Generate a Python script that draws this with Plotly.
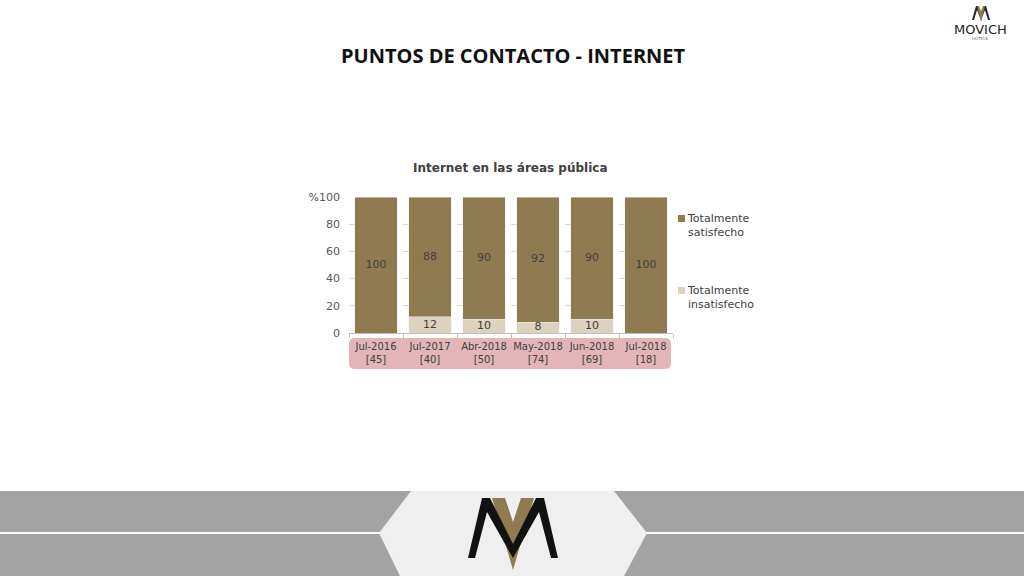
import plotly.graph_objects as go

# ---- data ----
periods = ["Jul-2016", "Jul-2017", "Abr-2018", "May-2018", "Jun-2018", "Jul-2018"]
sample_sizes = ["[45]", "[40]", "[50]", "[74]", "[69]", "[18]"]
satisfecho = [100, 88, 90, 92, 90, 100]
insatisfecho = [0, 12, 10, 8, 10, 0]
series_names = ["Totalmente<br>satisfecho", "Totalmente<br>insatisfecho"]
y_ticks = [0, 20, 40, 60, 80, 100]
y_ticktext = ["0", "20", "40", "60", "80", "%100"]

DARK = "#8E7B50"
LIGHT = "#DDD2BF"
PINK = "#E4B5B8"
TXT = "#404040"
FONT = "DejaVu Sans"

W, H = 1024, 576
ML, MR, MT, MB = 349, 351, 197, 243
PW, PH = W - ML - MR, H - MT - MB


def px(x):
    return (x - ML) / PW


def py(y):
    return (H - MB - y) / PH


def poly(pts):
    return "M " + " L ".join(f"{px(a)},{py(b)}" for a, b in pts) + " Z"


xlabels = [f"{p}<br>{n}" for p, n in zip(periods, sample_sizes)]

fig = go.Figure()
fig.add_trace(go.Bar(x=periods, y=insatisfecho, name=series_names[1],
                     marker_color=LIGHT, showlegend=False))
fig.add_trace(go.Bar(x=periods, y=satisfecho, name=series_names[0],
                     marker_color=DARK, showlegend=False))

# value labels
fig.add_trace(go.Scatter(
    x=[p for p, u in zip(periods, insatisfecho) if u > 0],
    y=[u / 2 for u in insatisfecho if u > 0],
    text=[str(u) for u in insatisfecho if u > 0],
    mode="text", textfont=dict(family=FONT, size=11, color=TXT),
    showlegend=False, cliponaxis=False, hoverinfo="skip"))
fig.add_trace(go.Scatter(
    x=periods,
    y=[u + s / 2 for u, s in zip(insatisfecho, satisfecho)],
    text=[str(s) for s in satisfecho],
    mode="text", textfont=dict(family=FONT, size=11, color=TXT),
    showlegend=False, cliponaxis=False, hoverinfo="skip"))

shapes = []
# pink label box (rounded)
x0, x1, y0, y1, r = px(349), px(671), py(369), py(338), 6
rx, ry = r / PW, r / PH
shapes.append(dict(
    type="path", xref="paper", yref="paper", layer="below",
    fillcolor=PINK, line=dict(width=0),
    path=(f"M {x0+rx},{y0} L {x1-rx},{y0} Q {x1},{y0} {x1},{y0+ry} "
          f"L {x1},{y1-ry} Q {x1},{y1} {x1-rx},{y1} L {x0+rx},{y1} "
          f"Q {x0},{y1} {x0},{y1-ry} L {x0},{y0+ry} Q {x0},{y0} {x0+rx},{y0} Z")))

# custom legend (squares)
for (ly, col) in [(218, DARK), (290, LIGHT)]:
    shapes.append(dict(type="rect", xref="paper", yref="paper",
                       x0=px(678), x1=px(685), y0=py(ly + 4), y1=py(ly - 3),
                       fillcolor=col, line=dict(width=0)))

# bottom banner
shapes.append(dict(type="rect", xref="paper", yref="paper", layer="below",
                   x0=px(0), x1=px(1024), y0=py(576), y1=py(491),
                   fillcolor="#A3A3A3", line=dict(width=0)))
shapes.append(dict(type="line", xref="paper", yref="paper",
                   x0=px(0), x1=px(1024), y0=py(533), y1=py(533),
                   line=dict(color="#FFFFFF", width=2)))
shapes.append(dict(type="path", xref="paper", yref="paper",
                   path=poly([(411, 491), (614, 491), (647, 533), (624, 576),
                              (400, 576), (379, 533)]),
                   fillcolor="#EFEFEF", line=dict(width=0)))
# logo: gold V then black M
shapes.append(dict(type="path", xref="paper", yref="paper",
                   path=poly([(492, 498), (505, 498), (513, 522), (521, 498),
                              (534, 498), (513, 570)]),
                   fillcolor=DARK, line=dict(width=0)))
shapes.append(dict(type="path", xref="paper", yref="paper",
                   path=poly([(468, 558), (482, 498), (490, 498), (513, 544),
                              (536, 498), (544, 498), (558, 558), (551, 558),
                              (539, 512), (513, 558), (487, 512), (475, 558)]),
                   fillcolor="#111111", line=dict(width=0)))
# top-right small logo
shapes.append(dict(type="path", xref="paper", yref="paper",
                   path=poly([(972, 20), (976, 6), (978, 6), (981, 14), (984, 6),
                              (986, 6), (990, 20), (988, 20), (985, 10), (981, 20),
                              (977, 10), (974, 20)]),
                   fillcolor="#222222", line=dict(width=0)))
shapes.append(dict(type="path", xref="paper", yref="paper",
                   path=poly([(977, 6), (979, 6), (981, 11), (983, 6), (985, 6),
                              (981, 22)]),
                   fillcolor=DARK, line=dict(width=0)))


def ann(text, x, y, size, color=TXT, family=FONT, xanchor="center", align="center"):
    return dict(text=text, x=px(x), y=py(y), xref="paper", yref="paper",
                showarrow=False, xanchor=xanchor, yanchor="middle", align=align,
                font=dict(family=family, size=size, color=color))


annotations = [
    ann("<b>PUNTOS DE CONTACTO - INTERNET</b>", 513, 55, 20, "#111111", "Open Sans"),
    ann("<b>Internet en las áreas pública</b>", 510, 168, 12),
    ann("MOVICH", 980, 29, 13, "#222222"),
    ann("HOTELS", 980, 38, 4, "#666666"),
    ann(series_names[0], 685, 225, 11, xanchor="left", align="left"),
    ann(series_names[1], 685, 297, 11, xanchor="left", align="left"),
]

fig.update_layout(
    width=W, height=H, barmode="stack", bargap=0.22,
    margin=dict(l=ML, r=MR, t=MT, b=MB, autoexpand=False),
    paper_bgcolor="white", plot_bgcolor="white",
    font=dict(family=FONT, size=11, color=TXT),
    showlegend=False,
    shapes=shapes, annotations=annotations,
    xaxis=dict(tickmode="array", tickvals=periods, ticktext=xlabels, tickangle=0,
               range=[-0.5, 5.5], showline=True, linecolor="#BFBFBF", linewidth=1,
               ticks="outside", tickson="boundaries", ticklen=4, tickcolor="#BFBFBF",
               ticklabelstandoff=4,
               tickfont=dict(family=FONT, size=10, color=TXT), showgrid=False),
    yaxis=dict(range=[0, 100], tickvals=y_ticks, ticktext=y_ticktext,
               showgrid=True, gridcolor="#D9D9D9", griddash="dash", gridwidth=1,
               zeroline=False, showline=False, ticklabelstandoff=8,
               tickfont=dict(family=FONT, size=11, color="#595959")),
)

fig.write_html("out.html", config={"displayModeBar": False},
               post_script="document.body.style.margin='0';")
